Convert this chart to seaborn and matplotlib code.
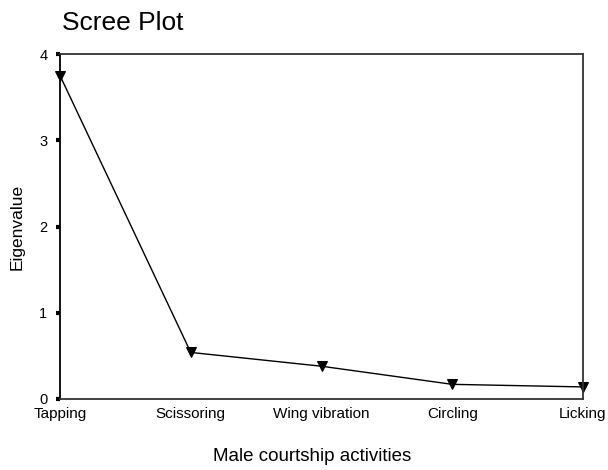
import pandas as pd
import matplotlib.pyplot as plt
import seaborn as sns

# scree plot values
activities = ['Tapping', 'Scissoring', 'Wing vibration', 'Circling', 'Licking']
eigenvalues = [3.75, 0.54, 0.38, 0.17, 0.14]

df = pd.DataFrame({'activity': activities, 'eigenvalue': eigenvalues})

sns.set_style('white')
plt.rcParams['font.family'] = ['Liberation Sans', 'DejaVu Sans']
plt.rcParams['text.color'] = 'black'
plt.rcParams['axes.labelcolor'] = 'black'
plt.rcParams['xtick.color'] = 'black'
plt.rcParams['ytick.color'] = 'black'

fig = plt.figure(figsize=(6.08, 4.70), dpi=100)
ax = fig.add_axes([60 / 608, 1 - 399 / 470, 523 / 608, 345 / 470])

sns.lineplot(data=df, x='activity', y='eigenvalue', sort=False, ax=ax,
             color='black', linewidth=1.0, marker='v', markersize=7,
             markeredgecolor='black', markerfacecolor='black', clip_on=False)

ax.set_xlim(0, len(activities) - 1)
ax.set_ylim(0, 4)
ax.set_yticks([0, 1, 2, 3, 4])
ax.set_xticks(range(len(activities)))
ax.set_xticklabels(activities)

for s in ax.spines.values():
    s.set_color('#333333')
    s.set_linewidth(1.3)
ax.spines['left'].set_color('black')

ax.tick_params(axis='y', length=3, width=3, direction='out', pad=6,
               labelsize=10.5, left=True)
ax.tick_params(axis='x', length=0, pad=6, labelsize=11)

ax.set_xlabel('Male courtship activities', fontsize=13.5)
ax.xaxis.set_label_coords((312 - 60) / 523, -0.143)
ax.set_ylabel('Eigenvalue', fontsize=12.5)
ax.yaxis.set_label_coords(-0.067, 0.5)
fig.text(62 / 608, 1 - 30 / 470, 'Scree Plot', fontsize=19, ha='left', va='baseline')

fig.savefig('out.png', dpi=100)
